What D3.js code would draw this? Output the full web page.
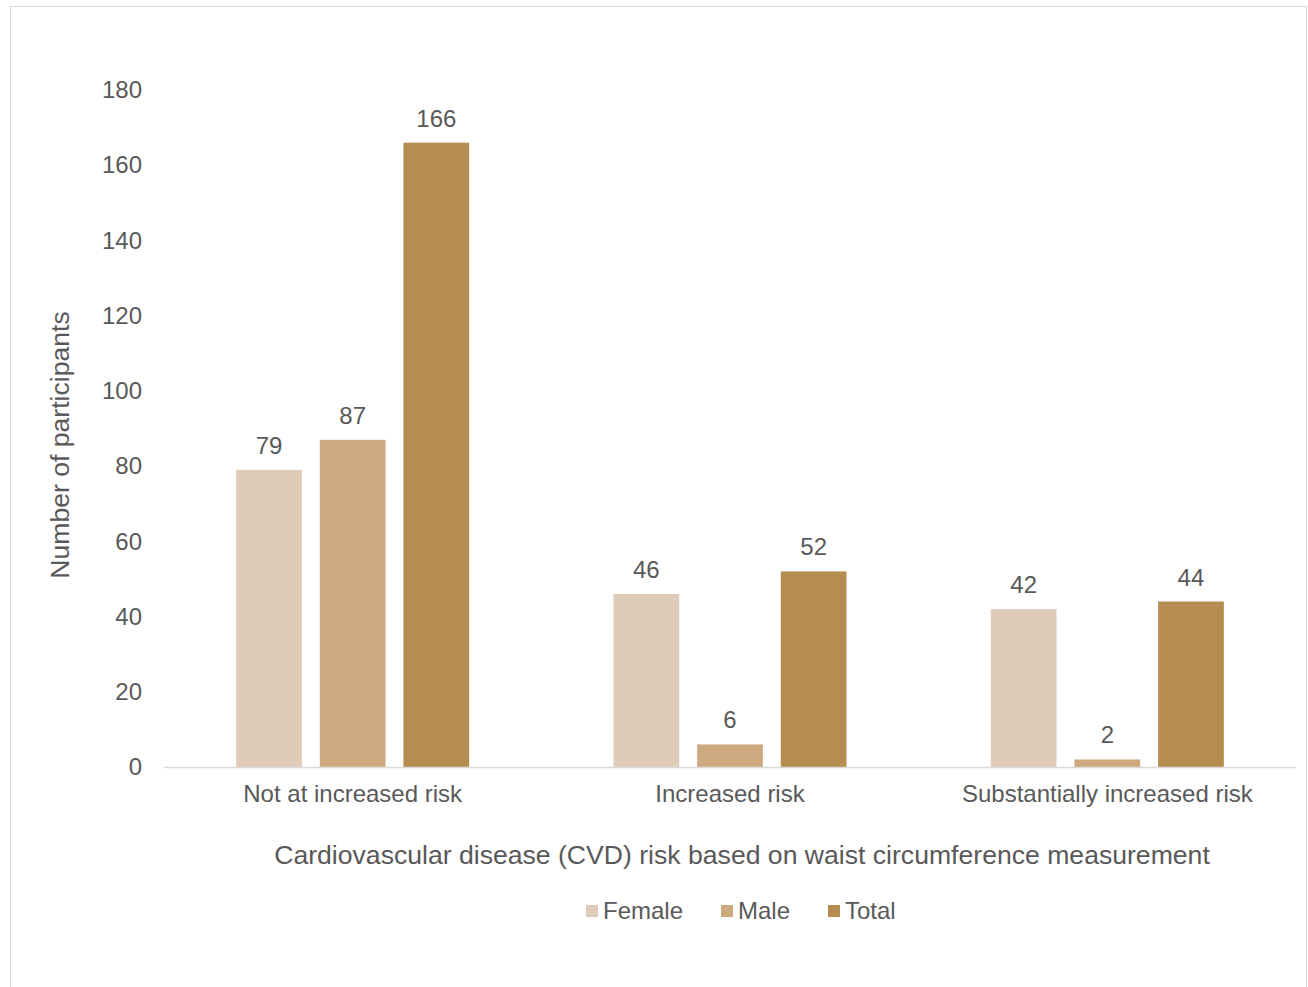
<!DOCTYPE html>
<html>
<head>
<meta charset="utf-8">
<script src="https://cdn.jsdelivr.net/npm/d3@7"></script>
<style>
  html, body { margin: 0; padding: 0; background: #fff; }
  svg { display: block; }
  text { font-family: "Liberation Sans", Arial, sans-serif; fill: #595959; }
</style>
</head>
<body>
<script>
// CVD risk groups by waist circumference
const categories = ["Not at increased risk", "Increased risk", "Substantially increased risk"];
const seriesNames = ["Female", "Male", "Total"];
const female = [79, 46, 42];
const male = [87, 6, 2];
const total = [166, 52, 44];
const yTicks = [0, 20, 40, 60, 80, 100, 120, 140, 160, 180];
const colors = ["#DFCCB8", "#CDA980", "#B58D50"];

const W = 1308, H = 987;
const plot = { left: 164, right: 1296, top: 90, bottom: 767 };
const labelSize = "24px";
const titleSize = "26.6px";

const svg = d3.select("body").append("svg").attr("width", W).attr("height", H);

// chart frame
svg.append("rect")
  .attr("x", 10.5).attr("y", 6.5)
  .attr("width", 1296).attr("height", 1000)
  .attr("fill", "#fff").attr("stroke", "#D9D9D9").attr("stroke-width", 1);

const x0 = d3.scaleBand().domain(categories).range([plot.left, plot.right]).paddingInner(0).paddingOuter(0);
const bandW = x0.bandwidth();
// bars occupy the central part of each band
const inner = 233;
const x1 = d3.scaleBand().domain(seriesNames)
  .range([(bandW - inner) / 2, (bandW + inner) / 2]).paddingInner(18 / 84).paddingOuter(0);

const y = d3.scaleLinear().domain([0, 180]).range([plot.bottom, plot.top]);

// y axis tick labels
const yAxis = svg.append("g").attr("transform", `translate(${plot.left},0)`)
  .call(d3.axisLeft(y).tickValues(yTicks).tickSize(0).tickPadding(22));
yAxis.select(".domain").remove();
yAxis.selectAll("text").style("font-size", labelSize).attr("fill", "#595959")
  .style("font-family", "'Liberation Sans', Arial, sans-serif");

// bars
const series = [female, male, total];
const rows = categories.map((c, i) => seriesNames.map((s, j) => ({ cat: c, name: s, value: series[j][i], color: colors[j] })));

const groups = svg.append("g").selectAll("g").data(rows).join("g")
  .attr("transform", d => `translate(${x0(d[0].cat)},0)`);

groups.selectAll("rect").data(d => d).join("rect")
  .attr("x", d => x1(d.name))
  .attr("width", x1.bandwidth())
  .attr("y", d => y(d.value))
  .attr("height", d => y(0) - y(d.value))
  .attr("fill", d => d.color);

groups.selectAll("text").data(d => d).join("text")
  .attr("x", d => x1(d.name) + x1.bandwidth() / 2)
  .attr("y", d => y(d.value) - 16)
  .attr("text-anchor", "middle")
  .style("font-size", labelSize)
  .text(d => d.value);

// baseline
svg.append("line")
  .attr("x1", plot.left).attr("x2", plot.right)
  .attr("y1", y(0) + 0.5).attr("y2", y(0) + 0.5)
  .attr("stroke", "#D9D9D9").attr("stroke-width", 1.3);

// category labels
const xAxis = svg.append("g").attr("transform", `translate(0,${plot.bottom})`)
  .call(d3.axisBottom(x0).tickSize(0).tickPadding(18));
xAxis.select(".domain").remove();
xAxis.selectAll("text").style("font-size", labelSize).attr("fill", "#595959")
  .style("font-family", "'Liberation Sans', Arial, sans-serif");

// axis titles
svg.append("text")
  .attr("x", 742).attr("y", 864)
  .attr("text-anchor", "middle")
  .style("font-size", titleSize)
  .text("Cardiovascular disease (CVD) risk based on waist circumference measurement");

svg.append("text")
  .attr("transform", "translate(69,445) rotate(-90)")
  .attr("text-anchor", "middle")
  .style("font-size", titleSize)
  .text("Number of participants");

// legend
const legendX = [586, 721, 828];
const legend = svg.append("g").selectAll("g").data(seriesNames).join("g")
  .attr("transform", (d, i) => `translate(${legendX[i]},905)`);
legend.append("rect").attr("width", 12).attr("height", 12).attr("fill", (d, i) => colors[i]);
legend.append("text").attr("x", 17).attr("y", 14).style("font-size", labelSize).text(d => d);
</script>
</body>
</html>
